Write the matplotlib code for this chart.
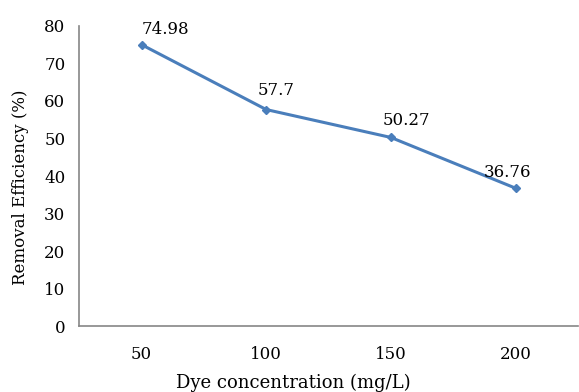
import matplotlib.pyplot as plt
import numpy as np

plt.rcParams['font.family'] = ['DejaVu Serif']

concentrations = ['50', '100', '150', '200']
removal = [74.98, 57.7, 50.27, 36.76]
value_labels = ['74.98', '57.7', '50.27', '36.76']

line_blue = '#4a7ebb'

fig = plt.figure(figsize=(5.79, 3.92), dpi=100)
ax = fig.add_axes([0.137, 0.168, 0.861, 0.766])

x = np.arange(len(concentrations))
ax.plot(x, removal, color=line_blue, lw=2.2, marker='D', ms=4.5)

# label offsets (points) so the numbers sit above each marker
offsets = [(17, 11), (7, 14), (11, 12), (-6, 11)]
for xi, yi, lab, off in zip(x, removal, value_labels, offsets):
    ax.annotate(lab, (xi, yi), xytext=off, textcoords='offset points',
                ha='center', va='center', fontsize=12)

ax.set_xlim(-0.5, 3.5)
ax.set_ylim(0, 80)
ax.set_yticks(np.arange(0, 81, 10))
ax.set_xticks(x)
ax.set_xticklabels(concentrations)
ax.tick_params(length=0, labelsize=12, pad=10)
ax.tick_params(axis='x', pad=14)

for s in ['top', 'right']:
    ax.spines[s].set_visible(False)
for s in ['left', 'bottom']:
    ax.spines[s].set_color('#868686')
    ax.spines[s].set_linewidth(1.2)

ax.set_xlabel('Dye concentration (mg/L)', fontsize=13)
ax.set_ylabel('Removal Efficiency (%)', fontsize=12)
ax.xaxis.set_label_coords(0.43, -0.16)
ax.yaxis.set_label_coords(-0.1, 0.463)

fig.savefig('out.png', dpi=100)
